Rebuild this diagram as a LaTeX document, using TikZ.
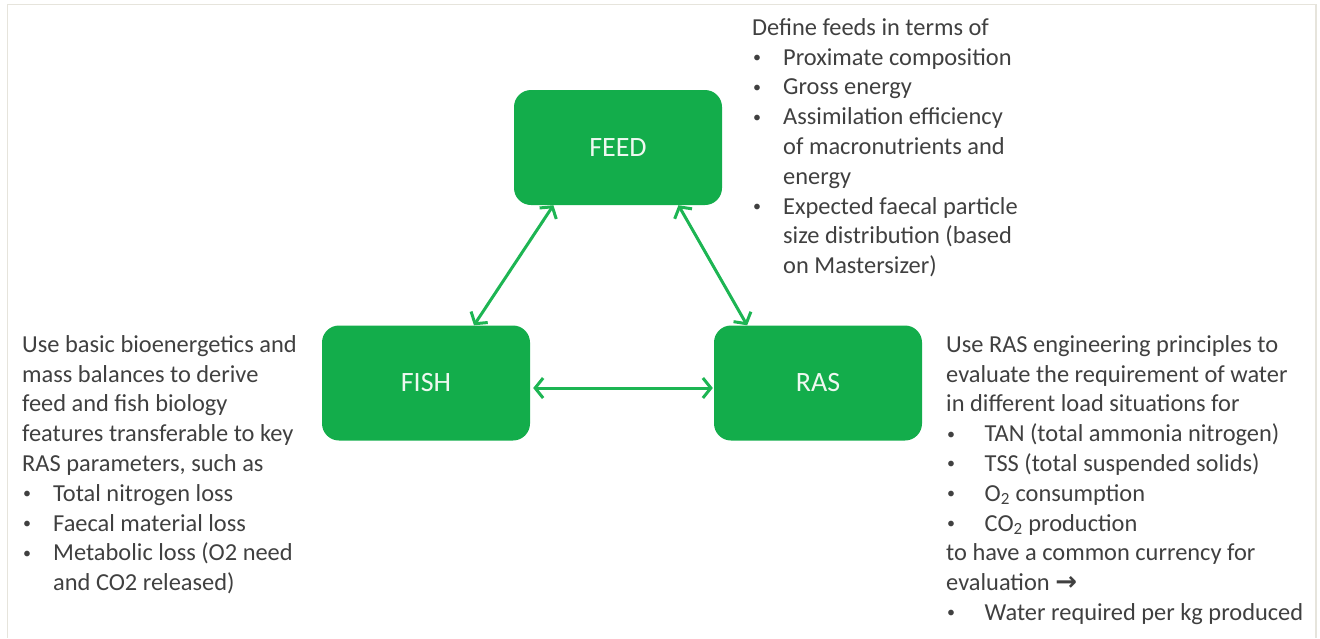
\documentclass[tikz,border=0pt]{standalone}
\usepackage{fontspec}
\setmainfont{Carlito}
\newfontfamily\arrowfont{DejaVu Sans}
\usetikzlibrary{arrows.meta,calc}
\definecolor{boxgreen}{HTML}{13AD4B}
\definecolor{linkgreen}{HTML}{1DB553}
\definecolor{bodygray}{HTML}{404040}
\definecolor{labelwhite}{HTML}{EEF8F0}
\definecolor{framegray}{HTML}{E6E4DC}
% small bullet with a fixed hanging width, and the matching indent for wrapped lines
\newcommand\bul[1][31pt]{\makebox[#1][l]{\hspace{1pt}\raisebox{2.6pt}{\fontsize{16}{16}\selectfont\textbullet}}}
\newcommand\hang[1][31pt]{\hspace*{#1}}
% fixes the height of a block's first line so its top sits at a known place
\newcommand\firstline{\rule{0pt}{20pt}}

\begin{document}
\begin{tikzpicture}[x=1pt,y=-1pt,
  block/.style={fill=boxgreen, rounded corners=17pt, minimum width=208pt,
    minimum height=115pt, inner sep=0pt, text=labelwhite,
    font=\fontsize{28}{34}\selectfont},
  note/.style={anchor=north west, inner sep=0pt, align=left, text=bodygray,
    font=\fontsize{24.4}{29.8}\selectfont},
  link/.style={draw=linkgreen, line width=3pt,
    {Straight Barb[length=8pt,width=20pt]}-{Straight Barb[length=8pt,width=20pt]}}]
\useasboundingbox (0,0) rectangle (1320,638);

% thin frame
\draw[framegray, line width=1.5pt] (7.5,638) -- (7.5,4.5) -- (1316,4.5) -- (1316,638);

% the three parts of the system
\node[block] (feed) at (618,147.5) {FEED};
\node[block] (fish) at (426,383) {FISH};
\node[block] (ras)  at (818,383) {RAS};

% two-way links
\draw[link] ($(feed.south west)!0.19!(feed.south east)$) -- ($(fish.north west)!0.73!(fish.north east)$);
\draw[link] ($(feed.south west)!0.79!(feed.south east)$) -- ($(ras.north west)!0.16!(ras.north east)$);
\draw[link] ($(fish.east)+(3,5)$) -- ($(ras.west)+(-1,5)$);

% descriptions
\node[note] (feednote) at (752,15) {\firstline Define feeds in terms of\\
  \bul Proximate composition\\
  \bul Gross energy\\
  \bul Assimilation efficiency\\
  \hang of macronutrients and\\
  \hang energy\\
  \bul Expected faecal particle\\
  \hang size distribution (based\\
  \hang on Mastersizer)};

\node[note] (fishnote) at (22,332) {\firstline Use basic bioenergetics and\\
  mass balances to derive\\
  feed and fish biology\\
  features transferable to key\\
  RAS parameters, such as\\
  \bul Total nitrogen loss\\
  \bul Faecal material loss\\
  \bul Metabolic loss (O2 need\\
  \hang and CO2 released)};

\node[note] (rasnote) at (946,332) {\firstline Use RAS engineering principles to\\
  evaluate the requirement of water\\
  in different load situations for\\
  \bul[33pt] TAN (total ammonia nitrogen)\\
  \bul[33pt] TSS (total suspended solids)\\
  \bul[33pt] O\textsubscript{2} consumption\\
  \bul[33pt] CO\textsubscript{2} production\\
  to have a common currency for\\
  evaluation {\arrowfont\bfseries\fontsize{26}{26}\selectfont →}\\
  \bul[33pt] Water required per kg produced};
\end{tikzpicture}
\end{document}
